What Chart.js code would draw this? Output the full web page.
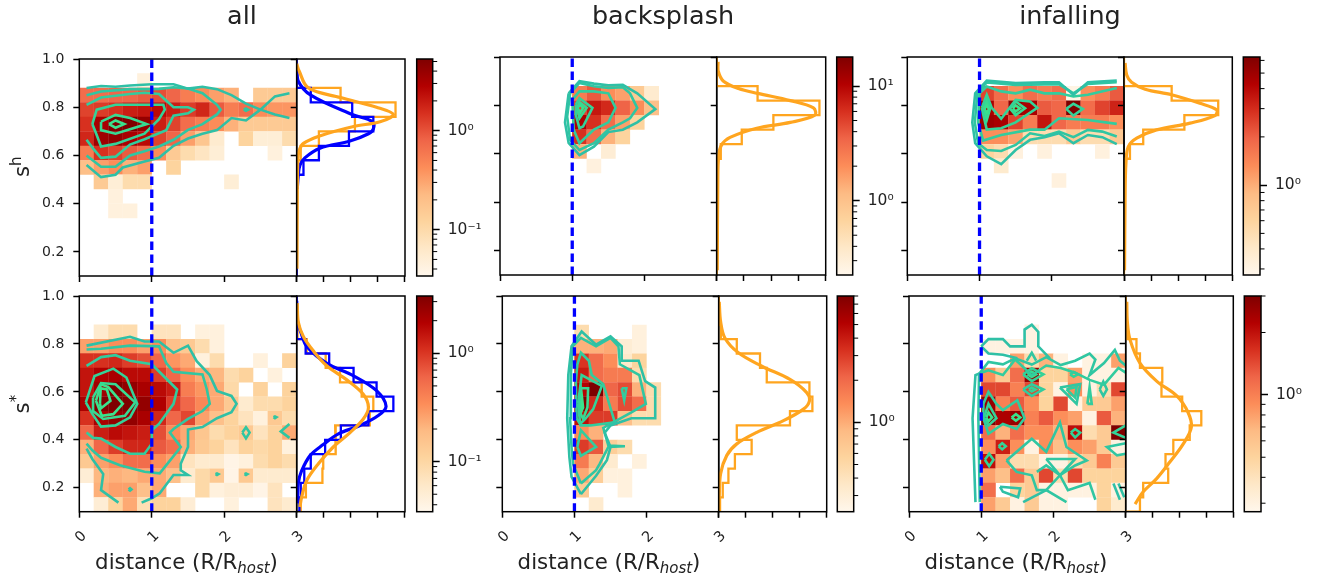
<!DOCTYPE html>
<html>
<head>
<meta charset="utf-8">
<style>
  html, body { margin: 0; padding: 0; background: #fff; }
  #page { position: relative; width: 1321px; height: 581px; overflow: hidden; }
  canvas { position: absolute; left: 0; top: 0; filter: blur(0.4px); }
</style>
<script src="https://cdn.jsdelivr.net/npm/chart.js@4"></script>
</head>
<body>
<div id="page"></div>
<script>
// 15 x 15 density grids, first row is the top bin (s 0.94-1.0), columns go 0-3 in distance
const heatAllH = [
  [0,0,0,0,0,0,0,0,0,0,0,0,0,0,0],
  [0,0,0,0,.044,0,0,0,0,0,0,0,0,0,0],
  [.7,.7,.78,.78,.9,1.05,.78,.55,.43,.33,.26,0,.155,.155,.155],
  [1.2,1.3,1.5,1.9,2.1,2.5,1.9,1.3,1.7,.9,.55,.7,.43,.38,.38],
  [1.5,3.2,5.3,5.3,4.1,1.9,1.2,.7,.55,.43,.26,.155,.155,.155,.155],
  [1.7,3.6,4.1,3.2,2.5,1.2,.78,.33,.17,.057,0,.12,.05,.05,.094],
  [.55,1.5,1.2,.9,.7,.43,.155,.094,.07,.05,0,0,0,.044,0],
  [.2,.33,.43,.26,.33,0,.12,0,0,0,0,0,0,0,0],
  [0,.155,.05,.094,.094,0,0,0,0,0,.05,0,0,0,0],
  [0,0,.044,0,0,0,0,0,0,0,0,0,0,0,0],
  [0,0,.044,.044,0,0,0,0,0,0,0,0,0,0,0],
];
const heatAllS = [
  [0,0,0,0,0,0,0,0,0,0,0,0,0,0,0],
  [0,0,0,0,0,0,0,0,0,0,0,0,0,0,0],
  [0,.055,.087,.087,0,.07,.07,0,.044,.044,0,0,0,0,0],
  [.27,.27,.34,.34,.27,.34,.17,.14,.087,.044,0,0,0,0,0],
  [1.07,1.07,1.2,.93,.78,.59,.31,.24,.044,.087,0,0,.044,0,.11],
  [1.5,1.95,2.1,1.7,1.7,.93,.59,.34,.24,.2,.087,.11,0,.044,0],
  [1.5,2.35,3.4,2.7,2.1,1.7,1.35,.43,.31,.24,.095,0,.11,0,.11],
  [2.1,3.4,3.4,3.4,2.7,1.95,.93,.59,.37,.24,.14,.055,.087,.087,.11],
  [1.07,2.1,2.7,2.7,2.1,1.2,.59,.85,.27,.17,.11,.07,.044,.14,.087],
  [.59,1.35,1.7,1.5,1.35,.78,.34,.24,.15,.087,.11,.14,.07,.11,.24],
  [.22,.59,.93,1.2,1.2,.68,.54,.22,.14,.11,.07,.11,.095,.11,.044],
  [.14,.27,.34,.54,.54,.34,.27,.07,.055,.055,.038,.044,.087,.11,.087],
  [.05,.2,.22,.2,.24,.24,.17,.055,.095,.14,.038,.14,.055,.055,.055],
  [0,.22,.27,.27,.17,.24,0,0,.095,.044,.05,.05,.038,.07,0],
  [0,.05,.11,.24,.08,.11,.11,.05,0,0,.044,0,0,.07,.055],
];
const heatBackH = [
  [0,0,0,0,0,0,0,0,0,0,0,0,0,0,0],
  [0,0,0,0,0,0,0,0,0,0,0,0,0,0,0],
  [0,0,0,0,0,2.5,3.9,2,1.6,.84,.35,0,0,0,0],
  [0,0,0,0,0,5,8,6.5,3.5,2,1.05,0,0,0,0],
  [0,0,0,0,0,11,6,3.1,1.6,.67,0,0,0,0,0],
  [0,0,0,0,0,6,3.1,1.3,.67,0,0,0,0,0,0],
  [0,0,0,0,0,1.3,0,.32,0,0,0,0,0,0,0],
  [0,0,0,0,0,0,.28,0,0,0,0,0,0,0,0],
];
const heatBackS = [
  [0,0,0,0,0,0,0,0,0,0,0,0,0,0,0],
  [0,0,0,0,0,0,0,0,0,0,0,0,0,0,0],
  [0,0,0,0,0,.47,0,0,0,.275,0,0,0,0,0],
  [0,0,0,0,0,.96,.96,1.04,.31,.275,0,0,0,0,0],
  [0,0,0,0,0,3.2,1.94,1.36,.35,.56,0,0,0,0,0],
  [0,0,0,0,0,4,1.94,1.65,1.65,.47,0,0,0,0,0],
  [0,0,0,0,0,5,8,2.1,2.6,.96,.47,0,0,0,0],
  [0,0,0,0,0,8,3.5,1.65,2.6,1.94,.47,0,0,0,0],
  [0,0,0,0,0,4.5,3,3,.8,.47,.47,0,0,0,0],
  [0,0,0,0,0,1.36,.96,0,0,0,0,0,0,0,0],
  [0,0,0,0,0,3,2.35,.62,.47,0,0,0,0,0,0],
  [0,0,0,0,0,1.65,.88,.33,0,.275,0,0,0,0,0],
  [0,0,0,0,0,1.04,.62,.275,.275,0,0,0,0,0,0],
  [0,0,0,0,0,.67,0,0,.275,0,0,0,0,0,0],
  [0,0,0,0,0,0,.33,0,0,0,0,0,0,0,0],
];
const heatInfallH = [
  [0,0,0,0,0,0,0,0,0,0,0,0,0,0,0],
  [0,0,0,0,0,0,0,0,0,0,0,0,0,0,0],
  [0,0,0,0,0,2.5,1.8,1.3,1.8,1.55,1.8,.3,1.3,1.55,2.1],
  [0,0,0,0,0,4.6,1.9,5.4,4.6,2.1,1.9,6.3,1.8,2.5,3.2],
  [0,0,0,0,0,5,4.6,2.5,1.55,3.6,1.9,1.55,1.55,1.55,1.3],
  [0,0,0,0,0,1.3,1.3,1.1,.51,.51,.51,.71,.51,.51,.71],
  [0,0,0,0,0,.6,.51,.32,0,.32,0,0,0,.32,0],
  [0,0,0,0,0,0,.38,0,0,0,0,0,0,0,0],
  [0,0,0,0,0,0,0,0,0,0,.32,0,0,0,0],
];
const heatInfallS = [
  [0,0,0,0,0,0,0,0,0,0,0,0,0,0,0],
  [0,0,0,0,0,0,0,0,0,0,0,0,0,0,0],
  [0,0,0,0,0,0,0,0,.3,0,0,0,0,0,0],
  [0,0,0,0,0,.3,.3,.3,.3,0,0,0,0,0,0],
  [0,0,0,0,0,0,0,.8,.44,.71,.3,0,.3,.3,.8],
  [0,0,0,0,0,.9,.56,1.14,2.6,.5,.5,.8,.3,.3,.3],
  [0,0,0,0,0,1.45,1.45,1,1.45,.5,.3,.9,.3,.44,1.45],
  [0,0,0,0,0,2.6,1,1.3,.9,.5,1.45,.3,.56,.56,.8],
  [0,0,0,0,0,3,2.3,2.6,1,1.3,.9,.8,.3,1.3,.71],
  [0,0,0,0,0,1.14,.71,1.14,.9,.9,.71,2.05,.44,.56,3],
  [0,0,0,0,0,.9,1.84,.9,.3,.9,.63,.9,.8,.56,.3],
  [0,0,0,0,0,2.05,.8,.44,.44,.3,.3,.44,.56,1,.56],
  [0,0,0,0,0,.8,.63,1.14,.56,1.45,.44,1.45,.5,.5,.5],
  [0,0,0,0,0,1.14,0,.5,.56,.3,.3,.3,.3,.5,.3],
  [0,0,0,0,0,.8,.56,.3,.56,.3,.3,0,0,.5,.35],
];

// contours: [level, [[distance, s], ...]]
const contoursAllH = [
  [0,[[.1,.88],[.3,.888],[.5,.885],[.7,.89],[1,.895],[1.3,.895],[1.5,.877],[1.7,.885],[1.9,.875],[2.1,.85],[2.3,.815],[2.5,.79],[2.7,.77],[2.9,.755]]],
  [0,[[.1,.56],[.3,.51],[.5,.52],[.6,.55],[.9,.575],[1.1,.59],[1.3,.64],[1.5,.67],[1.7,.69],[1.9,.705],[2.1,.755],[2.3,.745],[2.5,.79],[2.7,.845],[2.9,.858]]],
  [1,[[.1,.6],[.3,.553],[.5,.553],[.7,.6],[.9,.617],[1.1,.637],[1.3,.665],[1.5,.706],[1.7,.73],[1.9,.77],[1.95,.79],[1.9,.81],[1.7,.858],[1.5,.878],[1.3,.883],[1.1,.876],[.9,.875],[.7,.875],[.3,.865],[.1,.85]]],
  [2,[[.1,.81],[.3,.84],[.7,.855],[.9,.86],[1.1,.855],[1.3,.8],[1.5,.8],[1.58,.79],[1.5,.775],[1.3,.765],[1.2,.705],[.9,.667],[.7,.645],[.5,.595],[.3,.59],[.2,.625],[.1,.665]]],
  [3,[[.18,.73],[.24,.79],[.5,.81],[.9,.81],[1.16,.81],[1.18,.79],[1.1,.75],[.9,.69],[.5,.648],[.3,.637],[.24,.685],[.18,.73]]],
  [4,[[.3,.74],[.5,.768],[.7,.755],[.93,.73],[.5,.69],[.3,.705],[.3,.74]]],
  [5,[[.41,.73],[.5,.745],[.62,.73],[.5,.715],[.41,.73]]],
  [1,[[2.27,.79],[2.3,.795],[2.33,.79],[2.3,.785],[2.27,.79]]],
];
const contoursAllS = [
  [0,[[.1,.363],[.18,.32],[.33,.257],[.3,.19],[.54,.138]]],
  [0,[[.86,.138],[1,.156],[1.11,.177],[1.3,.253],[1.5,.253],[1.4,.273],[1.4,.3],[1.5,.37],[1.5,.443],[1.7,.453],[1.9,.49],[2.1,.515],[2.17,.55],[2.1,.583],[1.9,.604],[1.8,.67],[1.62,.728],[1.5,.793],[1.3,.763],[1.1,.81],[.9,.81],[.7,.83],[.1,.793]]],
  [1,[[.1,.777],[.3,.78],[.7,.793],[1.1,.79],[1.2,.72],[1.3,.684],[1.7,.673],[1.76,.61],[1.8,.55],[1.7,.52],[1.5,.487],[1.3,.445],[1.25,.43],[1.4,.37],[1.11,.26],[.9,.267],[.56,.294],[.3,.325],[.18,.356],[.1,.384]]],
  [2,[[.1,.708],[.3,.745],[.5,.753],[.7,.73],[1,.715],[1.35,.61],[1.3,.55],[1.1,.466],[1,.44],[1,.384],[.9,.342],[.7,.342],[.5,.37],[.3,.405],[.19,.408],[.1,.43]]],
  [3,[[.09,.556],[.21,.666],[.47,.697],[.65,.66],[.8,.55],[.7,.494],[.5,.46],[.3,.455],[.18,.508],[.09,.556]]],
  [4,[[.19,.577],[.3,.637],[.5,.632],[.77,.556],[.63,.5],[.33,.487],[.19,.52],[.19,.577]]],
  [5,[[.23,.563],[.3,.632],[.4,.62],[.6,.55],[.47,.507],[.31,.5],[.23,.563]]],
  [5,[[.285,.55],[.295,.615],[.38,.61],[.43,.563],[.3,.532],[.285,.55]]],
  [1,[[2.25,.43],[2.3,.452],[2.35,.43],[2.3,.406],[2.25,.43]]],
  [1,[[2.9,.466],[2.78,.435],[2.9,.408]]],
  [1,[[2.68,.494],[2.7,.497],[2.72,.494],[2.7,.49],[2.68,.494]]],
  [1,[[1.88,.257],[1.9,.26],[1.92,.257],[1.9,.253],[1.88,.257]]],
  [1,[[2.28,.257],[2.3,.26],[2.32,.257],[2.3,.253],[2.28,.257]]],
  [1,[[.68,.193],[.7,.198],[.72,.193],[.7,.188],[.68,.193]]],
];
const contoursBackH = [
  [0,[[.95,.85],[1.1,.9],[1.3,.89],[1.5,.883],[1.7,.885],[1.9,.85],[2.15,.785],[1.9,.73],[1.7,.7],[1.5,.69],[1.3,.63],[1.1,.595],[.95,.645],[.9,.73],[.95,.85]]],
  [1,[[.97,.85],[1.1,.893],[1.3,.879],[1.5,.872],[1.7,.875],[1.8,.85],[1.9,.79],[1.8,.747],[1.7,.73],[1.5,.7],[1.3,.644],[1.1,.616],[.97,.658],[.93,.754],[.97,.85]]],
  [2,[[1,.823],[1.1,.858],[1.3,.858],[1.5,.85],[1.6,.79],[1.5,.73],[1.3,.7],[1.1,.644],[1.02,.7],[1,.823]]],
  [3,[[1.05,.803],[1.1,.83],[1.28,.79],[1.15,.713],[1.1,.706],[1.05,.76],[1.05,.803]]],
  [4,[[1.07,.79],[1.1,.814],[1.2,.79],[1.1,.747],[1.07,.79]]],
  [5,[[1.07,.79],[1.11,.803],[1.15,.79],[1.11,.77],[1.07,.79]]],
];
const contoursBackS = [
  [0,[[1.09,.173],[.96,.245],[.93,.328],[.9,.49],[.915,.67],[.96,.79],[1.1,.852],[1.3,.797],[1.5,.832],[1.655,.79],[1.655,.73],[1.89,.73],[1.98,.645],[2.12,.618],[2.12,.49],[1.79,.49],[1.5,.46],[1.42,.43],[1.5,.37],[1.45,.315],[1.3,.25],[1.09,.173]]],
  [1,[[1.09,.218],[.98,.3],[.96,.37],[.94,.49],[.95,.67],[.975,.79],[1.09,.825],[1.3,.79],[1.5,.825],[1.61,.79],[1.63,.715],[1.9,.67],[1.99,.55],[1.79,.514],[1.5,.466],[1.4,.45],[1.47,.376],[1.7,.373],[1.47,.37],[1.35,.3],[1.3,.273],[1.09,.218]]],
  [2,[[1.03,.49],[1.02,.645],[1.04,.714],[1.09,.763],[1.2,.73],[1.24,.67],[1.4,.632],[1.56,.473],[1.22,.46],[1.09,.46],[1.03,.49]]],
  [2,[[1.04,.37],[1.09,.44],[1.3,.37],[1.09,.333],[1.04,.37]]],
  [3,[[1.05,.55],[1.1,.67],[1.38,.625],[1.26,.528],[1.15,.487],[1.08,.466],[1.05,.55]]],
  [4,[[1.07,.563],[1.09,.615],[1.19,.615],[1.18,.535],[1.12,.487],[1.07,.52],[1.07,.563]]],
  [5,[[1.09,.563],[1.1,.59],[1.12,.535],[1.09,.514],[1.09,.563]]],
  [2,[[1.655,.615],[1.72,.615],[1.69,.565],[1.655,.615]]],
];
const contoursInfallH = [
  [0,[[2.9,.903],[2.5,.896],[2.3,.844],[2.1,.896],[1.9,.896],[1.5,.892],[1.1,.903],[.94,.85],[.9,.73],[.94,.644],[1.1,.59],[1.3,.558],[1.5,.616],[1.7,.658],[1.9,.669],[2.1,.685],[2.3,.644],[2.5,.678],[2.7,.669],[2.9,.64]]],
  [1,[[2.9,.896],[2.5,.889],[2.3,.85],[2.1,.888],[1.5,.885],[1.1,.895],[.97,.85],[.935,.73],[.98,.644],[1.1,.616],[1.3,.612],[1.5,.637],[1.7,.685],[1.9,.674],[2.1,.692],[2.3,.669],[2.5,.699],[2.7,.692],[2.9,.672]]],
  [2,[[2.9,.872],[2.5,.844],[2.3,.837],[2.1,.85],[1.9,.85],[1.7,.865],[1.5,.85],[1.3,.858],[1.1,.878],[1,.85],[.98,.73],[1.05,.655],[1.3,.678],[1.7,.7],[1.9,.7],[2.1,.747],[2.5,.74],[2.9,.724]]],
  [3,[[1.03,.79],[1.1,.844],[1.17,.79],[1.3,.745],[1.5,.823],[1.7,.816],[1.8,.79],[1.5,.73],[1.3,.706],[1.1,.7],[1.03,.79]]],
  [4,[[1.05,.79],[1.1,.823],[1.15,.79],[1.1,.74],[1.05,.79]]],
  [5,[[1.07,.785],[1.1,.803],[1.13,.785],[1.1,.768],[1.07,.785]]],
  [4,[[1.42,.788],[1.5,.816],[1.63,.788],[1.5,.76],[1.42,.788]]],
  [5,[[1.46,.788],[1.5,.8],[1.56,.788],[1.5,.775],[1.46,.788]]],
  [3,[[2.2,.786],[2.3,.807],[2.43,.786],[2.3,.758],[2.2,.786]]],
];
const contoursInfallS = [
  [0,[[.92,.14],[.88,.49],[.92,.67],[1,.68]]],
  [1,[[.98,.14],[.96,.49],[.97,.675],[1.1,.725],[1.3,.715],[1.47,.74],[1.7,.714],[1.9,.745],[2.1,.712],[2.3,.73],[2.5,.76],[2.58,.735],[2.5,.67],[2.7,.72],[2.85,.775],[2.92,.73],[3,.71]]],
  [0,[[1,.79],[1.1,.82],[1.3,.82],[1.4,.79],[1.6,.79],[1.6,.86],[1.7,.88],[1.79,.85],[1.79,.79],[1.95,.74]]],
  [0,[[1,.79],[1.1,.76],[1.3,.755],[1.5,.74]]],
  [2,[[1,.68],[1.1,.69],[1.3,.67],[1.47,.735],[1.7,.67],[1.9,.71],[2.1,.7],[2.3,.68],[2.5,.65],[2.7,.63],[2.9,.7],[3,.68]]],
  [1,[[1.63,.73],[1.7,.763],[1.76,.73]]],
  [3,[[1.58,.673],[1.7,.698],[1.86,.673],[1.7,.645],[1.58,.673]]],
  [4,[[1.64,.673],[1.7,.685],[1.76,.673],[1.7,.662],[1.64,.673]]],
  [2,[[1.58,.61],[1.7,.632],[1.86,.61],[1.7,.583],[1.58,.61]]],
  [3,[[1.66,.61],[1.7,.618],[1.75,.61],[1.7,.602],[1.66,.61]]],
  [1,[[2.09,.618],[2.37,.632],[2.32,.55],[2.09,.618]]],
  [2,[[2.18,.611],[2.32,.62],[2.3,.576],[2.18,.611]]],
  [2,[[2.47,.55],[2.5,.62],[2.53,.55],[2.47,.55]]],
  [1,[[2.64,.61],[2.69,.643],[2.74,.61],[2.69,.583],[2.64,.61]]],
  [3,[[2.23,.673],[2.28,.683],[2.34,.673],[2.28,.663],[2.23,.673]]],
  [2,[[1.03,.55],[1.1,.6],[1.21,.55],[1.3,.524],[1.5,.565],[1.6,.49],[1.49,.445],[1.3,.466],[1.1,.425],[1.03,.49],[1.03,.55]]],
  [3,[[1.04,.493],[1.1,.55],[1.21,.49],[1.1,.46],[1.04,.493]]],
  [5,[[1.07,.493],[1.1,.514],[1.15,.493],[1.1,.477],[1.07,.493]]],
  [5,[[1.42,.493],[1.48,.507],[1.54,.493],[1.48,.48],[1.42,.493]]],
  [3,[[2.24,.43],[2.3,.445],[2.37,.43],[2.3,.41],[2.24,.43]]],
  [3,[[3,.46],[2.83,.43],[3,.408]]],
  [3,[[1.24,.373],[1.29,.386],[1.34,.373],[1.29,.36],[1.24,.373]]],
  [3,[[1.05,.317],[1.11,.342],[1.17,.317],[1.11,.29],[1.05,.317]]],
  [1,[[1.35,.314],[1.7,.404],[1.9,.35],[2.09,.472],[2.18,.37],[2.46,.314],[2.3,.293],[2.09,.252],[1.9,.293],[1.77,.266]]],
  [1,[[1.35,.314],[1.49,.266],[1.7,.252],[1.77,.19],[1.9,.19],[2.18,.14]]],
  [1,[[1.9,.32],[2.3,.32],[2.09,.252],[2.2,.19],[2.5,.22],[2.58,.15]]],
  [1,[[1.9,.32],[2.09,.252],[1.9,.19]]],
  [1,[[3,.386],[2.74,.37],[2.88,.335],[3,.342]]],
  [0,[[1.26,.204],[1.54,.197],[1.51,.16],[1.3,.183],[1.26,.204]]],
  [0,[[1.58,.14],[1.9,.19]]],
  [0,[[2.83,.218],[2.92,.15]]],
  [0,[[2.9,.218],[2.98,.16]]],
];

// side histograms, same rows as the heat grids
const histOrangeAllH = [0,0,1.62,3.65,2.15,.82,.15,0,0,0,0,0,0,0,0];
const histBlueAllH   = [0,0,.52,2.05,2.83,1.93,.82,.25,0,0,0,0,0,0,0];
const histOrangeAllS = [0,0,.03,.37,1.07,1.6,2.4,2.83,2.7,1.42,1.45,.98,.95,.34,.15];
const histBlueAllS   = [0,0,0,.33,1.2,2.1,2.95,3.57,2.65,1.63,1.05,.52,.28,.15,.1];
const histOrangeBackH = [0,0,1.5,3.77,2.08,.92,.15,0,0,0,0,0,0,0,0];
const histOrangeBackS = [0,0,.08,.67,1.53,1.78,3.36,3.47,2.64,.67,1.22,.6,.36,.15,.05];
const histOrangeInfallH = [0,0,1.76,3.48,2.23,.71,.22,0,0,0,0,0,0,0,0];
const histOrangeInfallS = [0,0,.05,.4,.53,1.36,1.33,2.1,2.81,2.38,1.77,1.48,1.58,.65,.53];

// fitted curves, [value, s]
const curveOrangeAllH = [[0,.98],[.09,.95],[.43,.88],[1.62,.84],[2.95,.8],[3.57,.77],[3.08,.74],[2.1,.72],[.82,.68],[.25,.65],[.09,.62],[.04,.58],[.02,.4],[.01,.13]];
const curveBlueAllH = [[0,.97],[.05,.91],[.52,.85],[2.05,.77],[2.8,.74],[2.83,.71],[2.65,.69],[1.97,.66],[.86,.63],[.3,.59],[.12,.56],[.06,.52],[.02,.46]];
const curveOrangeAllS = [[.02,.97],[.06,.89],[.25,.83],[.62,.77],[1.1,.71],[1.85,.65],[2.46,.59],[2.65,.535],[2.46,.487],[1.97,.43],[1.35,.37],[.8,.3],[.37,.23],[.18,.16],[.12,.12]];
const curveBlueAllS = [[0,.98],[.03,.895],[.18,.84],[.37,.79],[1.1,.72],[2.1,.667],[2.95,.605],[3.3,.54],[3,.5],[2.34,.46],[1.54,.425],[.98,.38],[.5,.335],[.18,.27],[.06,.22],[.02,.135]];
const curveOrangeBackH = [[.05,.98],[.06,.94],[.25,.9],[.8,.87],[1.5,.85],[2.7,.82],[3.55,.79],[3.6,.76],[2.7,.73],[1.47,.706],[.49,.668],[.18,.637],[.07,.59],[.04,.48],[.02,.12]];
const curveOrangeBackS = [[.02,.976],[.07,.894],[.23,.825],[.73,.763],[1.6,.707],[2.64,.652],[3.26,.597],[3.36,.562],[3.14,.528],[2.4,.48],[1.41,.431],[.67,.383],[.3,.335],[.07,.259],[.02,.162],[.01,.108]];
const curveOrangeInfallH = [[.04,.975],[.1,.926],[.28,.896],[.78,.867],[1.76,.844],[2.8,.809],[3.42,.782],[3.36,.758],[2.44,.727],[1.2,.699],[.47,.665],[.16,.63],[.07,.56],[.04,.41],[.02,.12]];
const curveOrangeInfallS = [[.04,.976],[.06,.894],[.16,.818],[.53,.72],[1.15,.645],[1.9,.583],[2.32,.514],[2.44,.452],[2.14,.383],[1.64,.307],[1.15,.238],[.65,.183],[.35,.132]];

const yBinCount = 15;
const tickLabelsX = [0, 1, 2, 3];
const tickLabelsY = [.2, .4, .6, .8, 1.0];
const sideTicksX = [0, 1, 2, 3, 4];

const orRd = ['#fff7ec','#fee8c8','#fdd49e','#fdbb84','#fc8d59','#ef6548','#d7301f','#b30000','#7f0000'];
const contourColors = ['#2fc0a6','#30c6a2','#32cc9e','#34d298','#37da92','#3ae28c'];
const textColor = '#222';
const fontName = '"DejaVu Sans"';

// room the axis boxes get, labels are clipped to these
const axisRoomX = 42;
const axisRoomY = 48;

function hexToRgb(h){
    return [1,3,5].map(i => parseInt(h.substr(i,2),16));
}
function colorFor(t){
    t = Math.max(0, Math.min(1, t));
    let p = t*(orRd.length-1);
    let i = Math.min(Math.floor(p), orRd.length-2);
    let a = hexToRgb(orRd[i]), b = hexToRgb(orRd[i+1]);
    let f = p-i;
    return `rgb(${a.map((v,k) => Math.round(v+(b[k]-v)*f)).join(",")})`;
}

function toPoints(pairs){
    return pairs.map(p => ({x:p[0], y:p[1]}));
}

function heatPoints(grid){
    let pts = [];
    grid.forEach((row,r) => {
        row.forEach((v,c) => {
            if(v > 0){
                pts.push({x:0.1+0.2*c, y:0.97-0.06*r, v:v});
            }
        });
    });
    return pts;
}

function histPoints(hist){
    let pts = [{x:0, y:1.0}];
    for(let r=0;r<yBinCount;r++){
        let top = 1.0-0.06*r;
        pts.push({x:hist[r], y:top});
        pts.push({x:hist[r], y:top-0.06});
    }
    pts.push({x:0, y:0.1});
    return pts;
}

const framePlugin = {
    id:"frame",
    afterDraw(chart){
        let a = chart.chartArea, ctx = chart.ctx;
        ctx.save();
        ctx.strokeStyle = "#000";
        ctx.lineWidth = 1.5;
        ctx.strokeRect(a.left, a.top, a.right-a.left, a.bottom-a.top);
        ctx.restore();
    }
};

// x axis label has an italic subscript, the library title can't mix fonts
function labelsPlugin(p){
    return {
        id:"panelLabels",
        afterDraw(chart){
            let a = chart.chartArea, ctx = chart.ctx;
            ctx.save();
            ctx.fillStyle = textColor;
            ctx.textBaseline = "alphabetic";
            if(p.title){
                ctx.font = `25.5px ${fontName}`;
                ctx.textAlign = "center";
                ctx.fillText(p.title, p.titleX, 23.5);
            }
            ctx.textAlign = "left";
            let main = "distance (R/R", sub = "host", end = ")";
            ctx.font = `21.3px ${fontName}`;
            let w1 = ctx.measureText(main).width, w3 = ctx.measureText(end).width;
            ctx.font = `italic 15px ${fontName}`;
            let w2 = ctx.measureText(sub).width;
            if(p.xLabel){
                let x = (a.left+a.right)/2-(w1+w2+w3)/2-1.5;
                ctx.font = `21.3px ${fontName}`;
                ctx.fillText(main, x, 569);
                ctx.fillText(end, x+w1+w2, 569);
                ctx.font = `italic 15px ${fontName}`;
                ctx.fillText(sub, x+w1, 573);
            }
            if(p.yLabel){
                ctx.translate(29, (a.top+a.bottom)/2);
                ctx.rotate(-Math.PI/2);
                ctx.textAlign = "left";
                ctx.font = `21.3px ${fontName}`;
                let sw = ctx.measureText("s").width;
                let x = -(sw+8)/2;
                ctx.fillText("s", x, 0);
                ctx.font = `15px ${fontName}`;
                ctx.fillText(p.yLabel, x+sw, -8);
            }
            ctx.restore();
        }
    };
}

function areaPadding(b){
    return {left:b.l-axisRoomY, top:b.t, right:1321-b.r, bottom:581-b.b-axisRoomX};
}

function newCanvas(){
    let c = document.createElement("canvas");
    c.width = 1321;
    c.height = 581;
    c.style.width = "1321px";
    c.style.height = "581px";
    document.getElementById("page").appendChild(c);
    return c.getContext("2d");
}

function axisOptions(ticks,min,max,tickOpts,room){
    return {
        type:"linear", min:min, max:max,
        afterBuildTicks:s => { s.ticks = ticks.map(v => ({value:v})); },
        afterFit:s => { if(s.isHorizontal()){ s.height = room; }else{ s.width = room; } },
        border:{display:false},
        grid:{drawOnChartArea:false, tickLength:6, tickWidth:1.5, tickColor:"#000"},
        ticks:tickOpts
    };
}

function drawMain(p){
    let sets = [{
        label:"density",
        data:heatPoints(p.heat),
        order:3,
        pointStyle:"rect",
        pointBorderWidth:0,
        pointRadius:ctx => {
            let s = ctx.chart.scales.x;
            return (s.getPixelForValue(0.2)-s.getPixelForValue(0))/Math.SQRT2+0.15;
        },
        pointBackgroundColor:ctx => {
            let v = ctx.raw.v;
            return colorFor(Math.log(v/p.vmin)/Math.log(p.vmax/p.vmin));
        }
    }];
    for(let c of p.contours){
        sets.push({
            label:"contour",
            data:toPoints(c[1]),
            order:2,
            showLine:true,
            pointRadius:0,
            borderWidth:2.6,
            borderColor:contourColors[c[0]]
        });
    }
    sets.push({
        label:"R host",
        data:[{x:1,y:0.1},{x:1,y:1.0}],
        order:1,
        showLine:true,
        pointRadius:0,
        borderWidth:3.3,
        borderColor:"#0000ff",
        borderDash:[8.5,4.5]
    });
    new Chart(newCanvas(), {
        type:"scatter",
        data:{datasets:sets},
        options:{
            responsive:false,
            animation:false,
            events:[],
            layout:{padding:areaPadding(p.box)},
            plugins:{legend:{display:false}, tooltip:{enabled:false}},
            scales:{
                x:axisOptions(tickLabelsX,0,3,{
                    display:!!p.xLabel,
                    minRotation:45, maxRotation:45, padding:10, labelOffset:5,
                    color:textColor, font:{family:fontName, size:14.5},
                    callback:v => ""+v
                },axisRoomX),
                y:axisOptions(tickLabelsY,0.1,1.0,{
                    display:p.showY, padding:9,
                    color:textColor, font:{family:fontName, size:14},
                    callback:v => v.toFixed(1)
                },axisRoomY)
            }
        },
        plugins:[framePlugin, labelsPlugin(p)]
    });
}

function drawSide(p){
    let line = (data,color,width,order,tension) => ({
        data:data, order:order, showLine:true, pointRadius:0,
        borderWidth:width, borderColor:color, tension:tension
    });
    let sets = [line(histPoints(p.histOrange),"#ffa51f",2.3,4,0), line(toPoints(p.curveOrange),"#ffa51f",3.2,1,0.35)];
    if(p.histBlue){
        sets.push(line(histPoints(p.histBlue),"#0000ff",2.3,3,0));
        sets.push(line(toPoints(p.curveBlue),"#0000ff",3.2,2,0.35));
    }
    new Chart(newCanvas(), {
        type:"scatter",
        data:{datasets:sets},
        options:{
            responsive:false,
            animation:false,
            events:[],
            layout:{padding:areaPadding(p.sideBox)},
            plugins:{legend:{display:false}, tooltip:{enabled:false}},
            scales:{
                x:axisOptions(sideTicksX,0,4,{display:false},axisRoomX),
                y:axisOptions(tickLabelsY,0.1,1.0,{display:false},axisRoomY)
            }
        },
        plugins:[framePlugin]
    });
}

function drawColorbar(p){
    let minors = [];
    for(let k=-3;k<3;k++){
        for(let m=2;m<10;m++){
            let v = m*Math.pow(10,k);
            if(v>=p.vmin && v<=p.vmax){
                minors.push(v);
            }
        }
    }
    let barPlugin = {
        id:"colorbar",
        beforeDraw(chart){
            let a = chart.chartArea, ctx = chart.ctx;
            let g = ctx.createLinearGradient(0,a.bottom,0,a.top);
            orRd.forEach((c,i) => g.addColorStop(i/(orRd.length-1),c));
            ctx.fillStyle = g;
            ctx.fillRect(a.left,a.top,a.right-a.left,a.bottom-a.top);
        },
        afterDraw(chart){
            let a = chart.chartArea, ctx = chart.ctx, s = chart.scales.y;
            ctx.save();
            ctx.strokeStyle = "#000";
            ctx.lineWidth = 1;
            ctx.beginPath();
            for(let v of minors){
                let y = s.getPixelForValue(v);
                ctx.moveTo(a.right,y);
                ctx.lineTo(a.right+4.5,y);
            }
            ctx.stroke();
            ctx.restore();
        }
    };
    let b = p.barBox;
    new Chart(newCanvas(), {
        type:"scatter",
        data:{datasets:[]},
        options:{
            responsive:false,
            animation:false,
            events:[],
            layout:{padding:{left:b.l, top:b.t, right:1321-b.r-axisRoomY, bottom:581-b.b}},
            plugins:{legend:{display:false}, tooltip:{enabled:false}},
            scales:{
                x:{display:false, type:"linear", min:0, max:1},
                y:{
                    type:"logarithmic", position:"right", min:p.vmin, max:p.vmax,
                    afterBuildTicks:s => { s.ticks = p.barTicks.map(v => ({value:v})); },
                    afterFit:s => { s.width = axisRoomY; },
                    border:{display:false},
                    grid:{drawOnChartArea:false, tickLength:7, tickWidth:1.5, tickColor:"#000"},
                    ticks:{
                        padding:8,
                        color:textColor, font:{family:fontName, size:15.5},
                        callback:v => v==10 ? "10\u00b9" : v==1 ? "10\u2070" : "10\u207b\u00b9"
                    }
                }
            }
        },
        plugins:[barPlugin, framePlugin]
    });
}

const panels = [
  {title:"all", titleX:242, yLabel:"h", showY:true, heat:heatAllH, contours:contoursAllH,
   histOrange:histOrangeAllH, histBlue:histBlueAllH, curveOrange:curveOrangeAllH, curveBlue:curveBlueAllH,
   vmin:.034, vmax:5.3, barTicks:[.1,1],
   box:{l:79.3,t:59,r:296.7,b:276}, sideBox:{l:296.7,t:59,r:405,b:276}, barBox:{l:416.7,t:59,r:432.7,b:276}},
  {title:"backsplash", titleX:663, showY:false, heat:heatBackH, contours:contoursBackH,
   histOrange:histOrangeBackH, curveOrange:curveOrangeBackH,
   vmin:.225, vmax:17.9, barTicks:[1,10],
   box:{l:500,t:57,r:716.7,b:275}, sideBox:{l:716.7,t:57,r:825.7,b:275}, barBox:{l:836.7,t:57,r:852.7,b:275}},
  {title:"infalling", titleX:1070, showY:false, heat:heatInfallH, contours:contoursInfallH,
   histOrange:histOrangeInfallH, curveOrange:curveOrangeInfallH,
   vmin:.275, vmax:6.3, barTicks:[1],
   box:{l:907.3,t:57,r:1124,b:275}, sideBox:{l:1124,t:57,r:1232.3,b:275}, barBox:{l:1243.3,t:57,r:1260,b:275}},
  {xLabel:true, yLabel:"*", showY:true, heat:heatAllS, contours:contoursAllS,
   histOrange:histOrangeAllS, histBlue:histBlueAllS, curveOrange:curveOrangeAllS, curveBlue:curveBlueAllS,
   vmin:.0345, vmax:3.38, barTicks:[.1,1],
   box:{l:79.3,t:296,r:296.7,b:511.7}, sideBox:{l:296.7,t:296,r:405,b:511.7}, barBox:{l:416.7,t:296,r:432.7,b:511.7}},
  {xLabel:true, showY:false, heat:heatBackS, contours:contoursBackS,
   histOrange:histOrangeBackS, curveOrange:curveOrangeBackS,
   vmin:.23, vmax:8, barTicks:[1],
   box:{l:502.3,t:296,r:718.7,b:511.7}, sideBox:{l:718.7,t:296,r:826.7,b:511.7}, barBox:{l:837.3,t:296,r:853.7,b:511.7}},
  {xLabel:true, showY:false, heat:heatInfallS, contours:contoursInfallS,
   histOrange:histOrangeInfallS, curveOrange:curveOrangeInfallS,
   vmin:.273, vmax:3, barTicks:[1],
   box:{l:909,t:296,r:1125.7,b:511.7}, sideBox:{l:1125.7,t:296,r:1233.3,b:511.7}, barBox:{l:1244.3,t:296,r:1261,b:511.7}},
];

for(let p of panels){
    drawMain(p);
    drawSide(p);
    drawColorbar(p);
}
</script>
</body>
</html>
